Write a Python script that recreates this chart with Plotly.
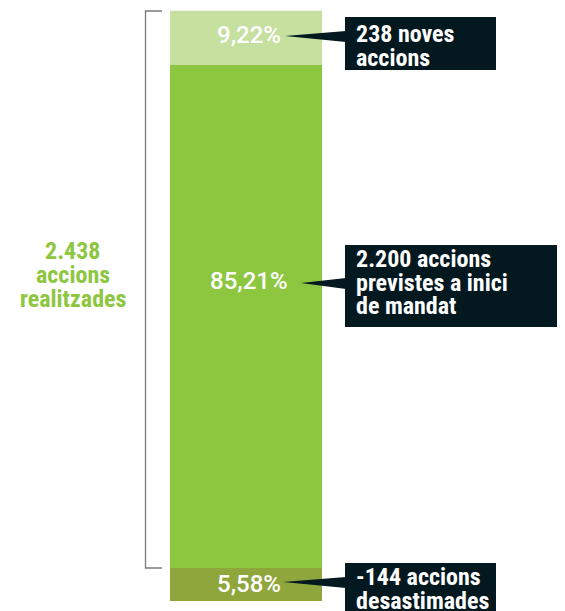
import plotly.graph_objects as go

# segment data (bottom -> top)
segments = ['desastimades', 'previstes', 'noves']
shares = [5.58, 85.21, 9.22]
share_labels = ['5,58%', '85,21%', '9,22%']
bar_colors = ['#8fa63c', '#8dc63f', '#c6e0a0']
callout_lines = [['-144 accions', 'desastimades'],
                 ['2.200 accions', 'previstes a inici', 'de mandat'],
                 ['238 noves', 'accions']]
total_lines = ['2.438', 'accions', 'realitzades']

W, H = 565, 611
OFF = 8  # page body margin, figure starts at (8, 8)
FONT = 'Roboto Condensed, Open Sans Condensed, sans-serif'
LABEL_FONT = 'Roboto, sans-serif'
DARK = '#041820'
GREEN = '#8dc63f'
LINE = 23.5

total = sum(shares)
top_px, bot_px = 10.7, 601
k = total / (bot_px - top_px)

fig = go.Figure()

base = 0
for name, v, c in zip(segments, shares, bar_colors):
    fig.add_trace(go.Bar(x=[246], y=[v], base=[base], width=152,
                         marker=dict(color=c, line=dict(width=0)),
                         name=name, showlegend=False, hoverinfo='skip'))
    base += v

# label and callout positions in page pixels (y from top)
label_base = [592, 289, 43]
tip_y = [582, 283, 36]
box_y = [(563, 615), (245, 327), (17, 70)]
box_x = [(345, 496), (345, 570), (345, 496)]
text_base = [585, 267, 42]
tip_x = [283, 301, 285]


def line_ann(x, baseline, text, font, anchor='left'):
    return dict(x=x, y=baseline - 8, xref='x', yref='y2', text=text,
                showarrow=False, xanchor=anchor, yanchor='middle', font=font)


box_font = dict(family=FONT, size=24, color='white', weight='bold')
shapes = []
annotations = []
for i in range(3):
    annotations.append(line_ann(249, label_base[i], share_labels[i],
                                dict(family=LABEL_FONT, size=24, color='white', weight=500),
                                'center'))
    x0, x1 = box_x[i]
    y0, y1 = box_y[i]
    ty = tip_y[i]
    shapes.append(dict(type='rect', xref='x', yref='y2', x0=x0, x1=x1, y0=y0, y1=y1,
                       fillcolor=DARK, line=dict(width=0), layer='above'))
    # pointer wedge
    shapes.append(dict(type='path', xref='x', yref='y2',
                       path=f'M {tip_x[i]} {ty} L {x0 + 1} {ty - 5} L {x0 + 1} {ty + 6} Z',
                       fillcolor=DARK, line=dict(width=0), layer='above'))
    for j, txt in enumerate(callout_lines[i]):
        annotations.append(line_ann(x0 + 9, text_base[i] + j * LINE, txt, box_font))

# bracket on the left
shapes.append(dict(type='path', xref='x', yref='y2',
                   path='M 162 11 L 145.5 11 L 145.5 568 L 162 568',
                   line=dict(color='#7a7a7a', width=1.3)))
green_font = dict(family=FONT, size=24, color=GREEN, weight='bold')
for j, txt in enumerate(total_lines):
    annotations.append(line_ann(73, 259 + j * 24, txt, green_font, 'center'))

fig.update_layout(
    width=W - OFF, height=H - OFF,
    margin=dict(l=0, r=0, t=0, b=0),
    plot_bgcolor='white', paper_bgcolor='white',
    barmode='overlay',
    xaxis=dict(range=[OFF, W], visible=False, fixedrange=True),
    yaxis=dict(range=[-(H - bot_px) * k, (bot_px - OFF) * k], visible=False),
    yaxis2=dict(range=[H, OFF], overlaying='y', visible=False),
    shapes=shapes,
    annotations=annotations,
)

fig.write_html("out.html")
